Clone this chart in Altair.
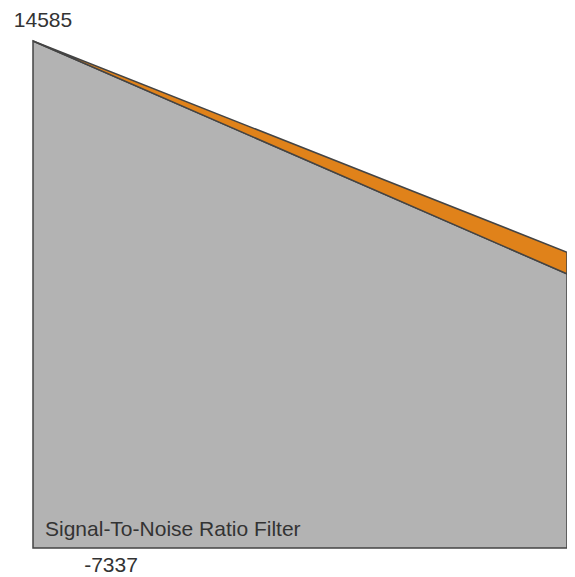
import altair as alt
import pandas as pd

# data
steps = [0, 1]
base_series = [14585, 4516]      # gray series (value at the visible right edge)
top_series = [0, 937]            # orange series stacked on gray
y_min = -7337
y_max = 14585
label_text = "Signal-To-Noise Ratio Filter"

df = pd.DataFrame({
    "step": steps,
    "base": base_series,
    "top": [b + t for b, t in zip(base_series, top_series)],
    "floor": [y_min] * len(steps),
})

FONT = "Liberation Sans"
FS = 21
xs = alt.Scale(domain=[0, 1], nice=False, zero=False)
ys = alt.Scale(domain=[y_min, y_max], nice=False, zero=False)

gray = alt.Chart(df).mark_area(
    color="#b3b3b3", stroke="#444444", strokeWidth=1.5, opacity=1
).encode(
    x=alt.X("step:Q", scale=xs, axis=None),
    y=alt.Y("base:Q", scale=ys, axis=None),
    y2="floor:Q",
)

orange = alt.Chart(df).mark_area(
    color="#e0821a", stroke="#444444", strokeWidth=1.5, opacity=1
).encode(
    x=alt.X("step:Q", scale=xs),
    y=alt.Y("top:Q", scale=ys),
    y2="base:Q",
)

lab_df = pd.DataFrame({
    "step": [0, 0, 0],
    "val": [y_max, y_min, y_min],
    "txt": [str(y_max), str(y_min), label_text],
    "kind": ["max", "min", "name"],
})

max_lab = alt.Chart(lab_df[lab_df.kind == "max"]).mark_text(
    font=FONT, fontSize=FS, color="#333333", dx=10, dy=-14, align="center", baseline="alphabetic"
).encode(x=alt.X("step:Q", scale=xs), y=alt.Y("val:Q", scale=ys), text="txt:N")

min_lab = alt.Chart(lab_df[lab_df.kind == "min"]).mark_text(
    font=FONT, fontSize=FS, color="#333333", dx=78, dy=24, align="center", baseline="alphabetic"
).encode(x=alt.X("step:Q", scale=xs), y=alt.Y("val:Q", scale=ys), text="txt:N")

name_lab = alt.Chart(lab_df[lab_df.kind == "name"]).mark_text(
    font=FONT, fontSize=FS, color="#333333", dx=12, dy=-12, align="left", baseline="alphabetic"
).encode(x=alt.X("step:Q", scale=xs), y=alt.Y("val:Q", scale=ys), text="txt:N")

chart = alt.layer(gray, orange, name_lab, max_lab, min_lab).properties(
    width=534,
    height=507,
    autosize=alt.AutoSizeParams(type="none"),
    padding={"left": 25, "top": 33, "right": 0, "bottom": 28},
    background="white",
).configure_view(stroke=None)

chart.save("out.html", embed_options={"renderer": "svg", "actions": False})
